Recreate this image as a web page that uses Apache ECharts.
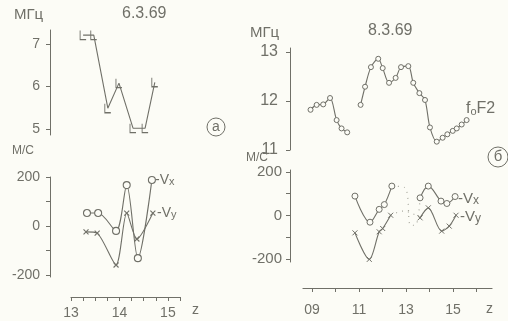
<!DOCTYPE html>
<html>
<head>
<meta charset="utf-8">
<script src="https://cdn.jsdelivr.net/npm/echarts@6/dist/echarts.min.js"></script>
<style>
  html, body { margin: 0; padding: 0; background: #fcfcf6; }
  #chart { width: 508px; height: 321px; }
</style>
</head>
<body>
<div id="chart"></div>
<script>
// Panel а (6.3.69): f-min marks and drift velocities
const fminTime = [13.25, 13.47, 13.76, 13.99, 14.28, 14.53, 14.73];
const fminMHz = [7.21, 7.21, 5.49, 6.08, 5.02, 5.02, 6.10];

const vxTimeA = [13.33, 13.56, 13.93, 14.15, 14.38, 14.67];
const vxA = [53, 53, -20, 167, -131, 188];
const vyTimeA = [13.31, 13.54, 13.93, 14.15, 14.36, 14.69];
const vyA = [-24, -29, -159, 53, -53, 53];

// Panel б (8.3.69): foF2 and drift velocities
const foF2Time = [8.94, 9.20, 9.48, 9.77, 10.05, 10.26, 10.50, 11.07, 11.26, 11.51, 11.82, 12.01, 12.28, 12.56,
                  12.79, 13.10, 13.31, 13.57, 13.81, 14.02, 14.31, 14.56, 14.76, 14.99, 15.16, 15.37, 15.58];
const foF2 = [11.82, 11.92, 11.93, 12.06, 11.61, 11.44, 11.36, 11.92, 12.29, 12.69, 12.86, 12.67, 12.37, 12.47,
              12.69, 12.71, 12.37, 12.16, 12.02, 11.46, 11.17, 11.25, 11.32, 11.39, 11.44, 11.52, 11.61];
const foF2BreakAfter = 6;

const vxTimeB = [10.83, 11.47, 11.86, 12.08, 12.40, 13.60, 13.95, 14.49, 14.74, 15.09];
const vxB = [89, -31, 28, 50, 135, 81, 135, 66, 55, 87];
const vyTimeB = [10.83, 11.44, 11.86, 12.01, 12.35, 13.60, 13.95, 14.52, 14.84, 15.13];
const vyB = [-80, -202, -75, -60, 1, -11, 35, -72, -49, 1];
const vBreakAfter = 4;

// dotted bridges across the data gap
const vxGapTime = [12.40, 12.95, 13.20, 13.40, 13.60];
const vxGap = [135, 128, -45, -45, 81];
const vyGapTime = [12.35, 12.90, 13.60];
const vyGap = [1, 20, -11];

// axis ticks and labels
const fTicksA = [5, 6, 7];
const fTicksB = [11, 12, 13];
const vTicks = [-200, -100, 0, 100, 200];
const vLabels = [-200, 0, 200];
const hourTicksA = [13, 13.25, 13.5, 13.75, 14, 14.25, 14.5, 14.75, 15, 15.25];
const hourLabelsA = [13, 14, 15];
const hourTicksB = [9, 10, 11, 12, 13, 14, 15, 16];
const hourLabelsB = [9, 11, 13, 15];

const ink = '#707068';
const paper = '#fcfcf6';
const FONT = '"Liberation Sans Narrow", "Liberation Sans", sans-serif';

const pairs = (xs, ys) => xs.map((x, i) => [x, ys[i]]);
const withBreak = (xs, ys, k) => {
  const p = pairs(xs, ys);
  return p.slice(0, k + 1).concat([[null, null]], p.slice(k + 1));
};

const L_MARK = 'path://M0,0L0,10L6,10';
const X_MARK = 'path://M0,0L10,10M10,0L0,10';

function xAxis(grid, min, max, ticks, labels, show, offset, margin, fmt) {
  return {
    type: 'value', gridIndex: grid, min, max, show,
    offset: offset || 0,
    splitLine: { show: false },
    axisLine: { show: true, onZero: false, lineStyle: { color: ink, width: 1.2 } },
    axisTick: { show: true, customValues: ticks, length: 4, inside: false, lineStyle: { color: ink } },
    axisLabel: { customValues: labels, color: ink, fontSize: 14, fontFamily: FONT, margin: margin || 9,
                 formatter: fmt || (v => String(v)) }
  };
}
function yAxis(grid, min, max, ticks, labels, offset, fs, margin) {
  return {
    type: 'value', gridIndex: grid, min, max, offset,
    splitLine: { show: false },
    axisLine: { show: true, onZero: false, lineStyle: { color: ink, width: 1 } },
    axisTick: { show: true, customValues: ticks, length: 4, lineStyle: { color: ink } },
    axisLabel: { customValues: labels, color: ink, fontSize: fs, fontFamily: FONT, margin }
  };
}

const lineBase = {
  type: 'line', silent: true, animation: false,
  lineStyle: { color: ink, width: 1.1 },
  itemStyle: { color: ink, borderColor: ink, borderWidth: 1 }
};

const option = {
  backgroundColor: paper,
  animation: false,
  grid: [
    { left: 71, top: 30, width: 109, height: 105 },
    { left: 71, top: 177, width: 109, height: 100 },
    { left: 303, top: 48, width: 189, height: 102 },
    { left: 303, top: 170, width: 189, height: 92 }
  ],
  xAxis: [
    xAxis(0, 13, 15.25, hourTicksA, hourLabelsA, false),
    xAxis(1, 13, 15.25, hourTicksA, hourLabelsA, true, 20, 9),
    xAxis(2, 8.62, 16.66, hourTicksB, hourLabelsB, false),
    xAxis(3, 8.62, 16.66, hourTicksB, hourLabelsB, true, 26, 15, v => (v < 10 ? '0' + v : String(v)))
  ],
  yAxis: [
    yAxis(0, 4.86, 7.33, fTicksA, fTicksA, 21, 14, 10),
    yAxis(1, -208, 200, vTicks, vLabels, 21, 14, 10),
    yAxis(2, 11, 13.08, fTicksB, fTicksB, 13, 16, 12),
    yAxis(3, -214, 209, vTicks, vLabels, 13, 15, 8)
  ],
  series: [
    Object.assign({}, lineBase, {
      xAxisIndex: 0, yAxisIndex: 0,
      data: pairs(fminTime, fminMHz),
      symbol: L_MARK, symbolSize: [6, 9],
      itemStyle: { color: 'rgba(0,0,0,0)', borderColor: ink, borderWidth: 1.1 }
    }),
    Object.assign({}, lineBase, {
      xAxisIndex: 1, yAxisIndex: 1, smooth: 0.3,
      data: pairs(vxTimeA, vxA),
      symbol: 'circle', symbolSize: 7,
      itemStyle: { color: paper, borderColor: ink, borderWidth: 1.1 }
    }),
    Object.assign({}, lineBase, {
      xAxisIndex: 1, yAxisIndex: 1, smooth: 0.25,
      data: pairs(vyTimeA, vyA),
      symbol: X_MARK, symbolSize: 5,
      itemStyle: { color: 'rgba(0,0,0,0)', borderColor: ink, borderWidth: 1.1 }
    }),
    Object.assign({}, lineBase, {
      xAxisIndex: 2, yAxisIndex: 2, smooth: 0.3, connectNulls: false,
      data: withBreak(foF2Time, foF2, foF2BreakAfter),
      symbol: 'circle', symbolSize: 5,
      itemStyle: { color: paper, borderColor: ink, borderWidth: 1 }
    }),
    Object.assign({}, lineBase, {
      xAxisIndex: 3, yAxisIndex: 3, smooth: 0.35, connectNulls: false,
      data: withBreak(vxTimeB, vxB, vBreakAfter),
      symbol: 'circle', symbolSize: 6,
      itemStyle: { color: paper, borderColor: ink, borderWidth: 1 }
    }),
    Object.assign({}, lineBase, {
      xAxisIndex: 3, yAxisIndex: 3, smooth: 0.3, connectNulls: false,
      data: withBreak(vyTimeB, vyB, vBreakAfter),
      symbol: X_MARK, symbolSize: 5,
      itemStyle: { color: 'rgba(0,0,0,0)', borderColor: ink, borderWidth: 1 }
    }),
    Object.assign({}, lineBase, {
      xAxisIndex: 3, yAxisIndex: 3, smooth: 0.4, z: 1,
      data: pairs(vxGapTime, vxGap), symbol: 'none',
      lineStyle: { color: '#a8a89e', width: 1.2, type: [1, 5] }
    }),
    Object.assign({}, lineBase, {
      xAxisIndex: 3, yAxisIndex: 3, smooth: 0.4, z: 1,
      data: pairs(vyGapTime, vyGap), symbol: 'none',
      lineStyle: { color: '#a8a89e', width: 1.2, type: [1, 5] }
    })
  ],
  graphic: [
    { type: 'text', left: 14, top: 7, style: { text: 'МГц', fill: ink, font: '15px ' + FONT } },
    { type: 'text', left: 122, top: 6, style: { text: '6.3.69', fill: ink, font: '16px ' + FONT } },
    { type: 'text', left: 12, top: 145, style: { text: 'М/С', fill: ink, font: '12px ' + FONT } },
    { type: 'circle', shape: { cx: 216, cy: 127, r: 9 }, style: { fill: 'none', stroke: ink, lineWidth: 1 } },
    { type: 'text', x: 216, y: 127, style: { text: 'а', fill: ink, font: '14px ' + FONT, align: 'center', verticalAlign: 'middle' } },
    { type: 'text', left: 155, top: 173, style: {
        text: '-V{s|x}', fill: ink, font: '14px ' + FONT,
        rich: { s: { fontSize: 11, fill: ink, fontFamily: FONT, padding: [4, 0, 0, 0] } } } },
    { type: 'text', left: 157, top: 206, style: {
        text: '-V{s|y}', fill: ink, font: '14px ' + FONT,
        rich: { s: { fontSize: 11, fill: ink, fontFamily: FONT, padding: [4, 0, 0, 0] } } } },
    { type: 'text', left: 192, top: 303, style: { text: 'z', fill: ink, font: '14px ' + FONT } },

    { type: 'text', left: 250, top: 25, style: { text: 'МГц', fill: ink, font: '15px ' + FONT } },
    { type: 'text', left: 368, top: 23, style: { text: '8.3.69', fill: ink, font: '16px ' + FONT } },
    { type: 'text', left: 246, top: 152, style: { text: 'М/С', fill: ink, font: '12px ' + FONT } },
    { type: 'text', left: 466, top: 101, style: {
        text: 'f{s|o}F2', fill: ink, font: '16px ' + FONT,
        rich: { s: { fontSize: 11, fill: ink, fontFamily: FONT, padding: [5, 0, 0, 0] } } } },
    { type: 'circle', shape: { cx: 498, cy: 157, r: 10 }, style: { fill: 'none', stroke: ink, lineWidth: 1 } },
    { type: 'text', x: 498, y: 157, style: { text: 'б', fill: ink, font: '15px ' + FONT, align: 'center', verticalAlign: 'middle' } },
    { type: 'text', left: 458, top: 191, style: {
        text: '-V{s|x}', fill: ink, font: '15px ' + FONT,
        rich: { s: { fontSize: 12, fill: ink, fontFamily: FONT, padding: [4, 0, 0, 0] } } } },
    { type: 'text', left: 460, top: 209, style: {
        text: '-V{s|y}', fill: ink, font: '15px ' + FONT,
        rich: { s: { fontSize: 12, fill: ink, fontFamily: FONT, padding: [4, 0, 0, 0] } } } },
    { type: 'text', left: 486, top: 302, style: { text: 'z', fill: ink, font: '14px ' + FONT } }
  ]
};

const chart = echarts.init(document.getElementById('chart'), null, { renderer: 'canvas' });
chart.setOption(option);
</script>
</body>
</html>
